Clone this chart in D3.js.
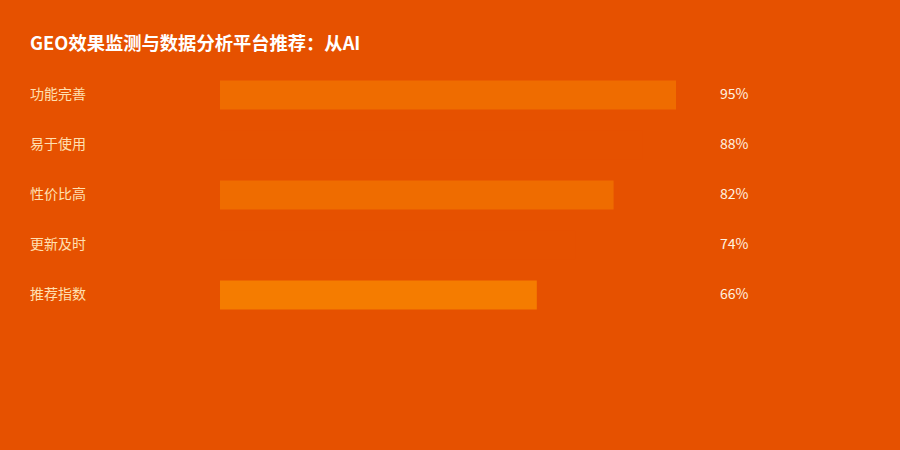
<!DOCTYPE html>
<html>
<head>
<meta charset="utf-8">
<script src="https://cdn.jsdelivr.net/npm/d3@7"></script>
<style>
  html, body { margin: 0; padding: 0; background: #E65100; }
  svg { display: block; }
</style>
</head>
<body>
<div id="chart"></div>
<script>
const title = "GEO效果监测与数据分析平台推荐：从AI";
const categories = ["功能完善", "易于使用", "性价比高", "更新及时", "推荐指数"];
const values = [95, 88, 82, 74, 66];
const barColours = ["#EF6C00", "#E65100", "#EF6C00", "#E65100", "#F57C00"];

const width = 900, height = 450;
const bg = "#E65100";

const svg = d3.select("#chart").append("svg")
  .attr("width", width)
  .attr("height", height)
  .style("font-family", "'Noto Sans CJK SC', 'Noto Sans', sans-serif");

svg.append("rect")
  .attr("width", width)
  .attr("height", height)
  .attr("fill", bg);

svg.append("text")
  .attr("x", 30)
  .attr("y", 50)
  .attr("fill", "#fff")
  .style("font-size", "18.3px")
  .style("font-weight", "bold")
  .text(title);

// one row per category, 50px apart
const y = d3.scaleBand()
  .domain(categories)
  .range([70, 320])
  .paddingInner(0.42)
  .paddingOuter(0.21);

const x = d3.scaleLinear()
  .domain([0, 100])
  .range([220, 700]);

const rows = svg.selectAll("g.row")
  .data(categories.map((c, i) => ({ c, v: values[i], col: barColours[i] })))
  .enter()
  .append("g")
  .attr("class", "row");

rows.append("rect")
  .attr("x", x(0))
  .attr("y", d => y(d.c))
  .attr("width", d => x(d.v) - x(0))
  .attr("height", y.bandwidth())
  .attr("fill", d => d.col);

rows.append("text")
  .attr("x", 30)
  .attr("y", d => y(d.c) + y.bandwidth() / 2)
  .attr("dy", "0.28em")
  .attr("fill", "#FFE0B2")
  .style("font-size", "14px")
  .text(d => d.c);

rows.append("text")
  .attr("x", 720)
  .attr("y", d => y(d.c) + y.bandwidth() / 2)
  .attr("dy", "0.28em")
  .attr("fill", "#FFF3E0")
  .style("font-size", "14px")
  .text(d => d.v + "%");
</script>
</body>
</html>
